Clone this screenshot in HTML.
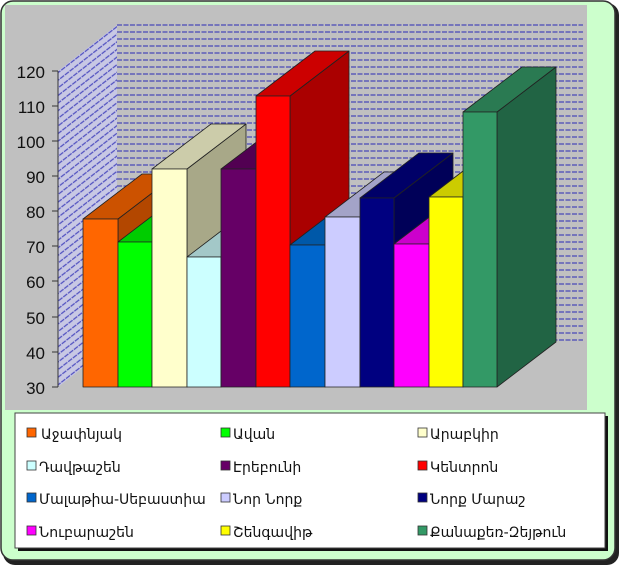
<!DOCTYPE html>
<html><head><meta charset="utf-8"><style>
body{margin:0;width:620px;height:566px;background:#fff;overflow:hidden}
svg{display:block}
text{font-family:"DejaVu Sans","Liberation Sans",sans-serif}
.ax{font-family:"Liberation Sans",sans-serif}
</style></head><body>
<svg width="620" height="566" xmlns="http://www.w3.org/2000/svg">
<defs>
<pattern id="hatch" width="6" height="6" patternUnits="userSpaceOnUse" patternTransform="rotate(-38)">
<rect width="6" height="6" fill="#c8c8e4"/><line x1="0" y1="3" x2="6" y2="3" stroke="#5050c0" stroke-width="1.2" stroke-dasharray="4 1"/>
</pattern>
</defs>
<rect x="3" y="3" width="616" height="562" rx="12" fill="#222"/>
<rect x="1" y="1" width="614" height="559" rx="12" fill="#ccffcc" stroke="#333" stroke-width="1.5"/>
<rect x="5" y="5" width="582" height="405" fill="#c0c0c0"/>
<g stroke="#4848b8" stroke-width="1.3" stroke-dasharray="5 1.5">
<line x1="117" y1="25" x2="583" y2="25"/><line x1="117" y1="32" x2="583" y2="32"/><line x1="117" y1="39" x2="583" y2="39"/><line x1="117" y1="46" x2="583" y2="46"/><line x1="117" y1="53" x2="583" y2="53"/><line x1="117" y1="60" x2="583" y2="60"/><line x1="117" y1="67" x2="583" y2="67"/><line x1="117" y1="74" x2="583" y2="74"/><line x1="117" y1="81" x2="583" y2="81"/><line x1="117" y1="88" x2="583" y2="88"/><line x1="117" y1="95" x2="583" y2="95"/><line x1="117" y1="102" x2="583" y2="102"/><line x1="117" y1="109" x2="583" y2="109"/><line x1="117" y1="116" x2="583" y2="116"/><line x1="117" y1="123" x2="583" y2="123"/><line x1="117" y1="130" x2="583" y2="130"/><line x1="117" y1="137" x2="583" y2="137"/><line x1="117" y1="144" x2="583" y2="144"/><line x1="117" y1="151" x2="583" y2="151"/><line x1="117" y1="158" x2="583" y2="158"/><line x1="117" y1="165" x2="583" y2="165"/><line x1="117" y1="172" x2="583" y2="172"/><line x1="117" y1="179" x2="583" y2="179"/><line x1="117" y1="186" x2="583" y2="186"/><line x1="117" y1="193" x2="583" y2="193"/><line x1="117" y1="200" x2="583" y2="200"/><line x1="117" y1="207" x2="583" y2="207"/><line x1="117" y1="214" x2="583" y2="214"/><line x1="117" y1="221" x2="583" y2="221"/><line x1="117" y1="228" x2="583" y2="228"/><line x1="117" y1="235" x2="583" y2="235"/><line x1="117" y1="242" x2="583" y2="242"/><line x1="117" y1="249" x2="583" y2="249"/><line x1="117" y1="256" x2="583" y2="256"/><line x1="117" y1="263" x2="583" y2="263"/><line x1="117" y1="270" x2="583" y2="270"/><line x1="117" y1="277" x2="583" y2="277"/><line x1="117" y1="284" x2="583" y2="284"/><line x1="117" y1="291" x2="583" y2="291"/><line x1="117" y1="298" x2="583" y2="298"/><line x1="117" y1="305" x2="583" y2="305"/><line x1="117" y1="312" x2="583" y2="312"/><line x1="117" y1="319" x2="583" y2="319"/><line x1="117" y1="326" x2="583" y2="326"/><line x1="117" y1="333" x2="583" y2="333"/><line x1="117" y1="340" x2="583" y2="340"/>
</g>
<polygon points="58,387 58,71 117,25 117,341" fill="url(#hatch)"/>
<line x1="58" y1="71" x2="58" y2="387" stroke="#333" stroke-width="1"/>
<g stroke="#333" stroke-width="1">
<line x1="52" y1="71" x2="58" y2="71"/><line x1="52" y1="106" x2="58" y2="106"/><line x1="52" y1="141" x2="58" y2="141"/><line x1="52" y1="176" x2="58" y2="176"/><line x1="52" y1="211" x2="58" y2="211"/><line x1="52" y1="246" x2="58" y2="246"/><line x1="52" y1="281" x2="58" y2="281"/><line x1="52" y1="317" x2="58" y2="317"/><line x1="52" y1="352" x2="58" y2="352"/><line x1="52" y1="387" x2="58" y2="387"/>
</g>
<g class="ax" font-size="17" fill="#111" text-anchor="end">
<text class="ax" x="45" y="78">120</text><text class="ax" x="45" y="113">110</text><text class="ax" x="45" y="148">100</text><text class="ax" x="45" y="183">90</text><text class="ax" x="45" y="218">80</text><text class="ax" x="45" y="253">70</text><text class="ax" x="45" y="288">60</text><text class="ax" x="45" y="324">50</text><text class="ax" x="45" y="359">40</text><text class="ax" x="45" y="394">30</text>
</g>
<g stroke="#222" stroke-width="0.8" stroke-linejoin="round">
<polygon points="118,387 118,219 177,174 177,342" fill="#b34700"/><polygon points="83,219 118,219 177,174 142,174" fill="#cc5200"/><rect x="83" y="219" width="35" height="168" fill="#ff6600"/>
<polygon points="152,387 152,242 211,197 211,342" fill="#00b300"/><polygon points="118,242 152,242 211,197 177,197" fill="#00cc00"/><rect x="118" y="242" width="34" height="145" fill="#00ff00"/>
<polygon points="187,387 187,169 246,124 246,342" fill="#a8a888"/><polygon points="152,169 187,169 246,124 211,124" fill="#ccccaa"/><rect x="152" y="169" width="35" height="218" fill="#ffffcc"/>
<polygon points="221,387 221,257 280,212 280,342" fill="#8fb3b3"/><polygon points="187,257 221,257 280,212 246,212" fill="#a3c8c8"/><rect x="187" y="257" width="34" height="130" fill="#ccffff"/>
<polygon points="256,387 256,169 315,124 315,342" fill="#470047"/><polygon points="221,169 256,169 315,124 280,124" fill="#520052"/><rect x="221" y="169" width="35" height="218" fill="#660066"/>
<polygon points="290,387 290,96 349,51 349,342" fill="#aa0000"/><polygon points="256,96 290,96 349,51 315,51" fill="#cc0000"/><rect x="256" y="96" width="34" height="291" fill="#ff0000"/>
<polygon points="325,387 325,245 384,200 384,342" fill="#00478f"/><polygon points="290,245 325,245 384,200 349,200" fill="#0058a8"/><rect x="290" y="245" width="35" height="142" fill="#0066cc"/>
<polygon points="360,387 360,217 419,172 419,342" fill="#8f8fb3"/><polygon points="325,217 360,217 419,172 384,172" fill="#a3a3c8"/><rect x="325" y="217" width="35" height="170" fill="#ccccff"/>
<polygon points="394,387 394,198 453,153 453,342" fill="#000058"/><polygon points="360,198 394,198 453,153 419,153" fill="#000068"/><rect x="360" y="198" width="34" height="189" fill="#000080"/>
<polygon points="429,387 429,244 488,199 488,342" fill="#b300b3"/><polygon points="394,244 429,244 488,199 453,199" fill="#cc00cc"/><rect x="394" y="244" width="35" height="143" fill="#ff00ff"/>
<polygon points="463,387 463,197 522,152 522,342" fill="#b3b300"/><polygon points="429,197 463,197 522,152 488,152" fill="#cccc00"/><rect x="429" y="197" width="34" height="190" fill="#ffff00"/>
<polygon points="497,387 497,112 556,67 556,342" fill="#216444"/><polygon points="463,112 497,112 556,67 522,67" fill="#2a7a52"/><rect x="463" y="112" width="34" height="275" fill="#339966"/>
</g>
<rect x="18" y="416" width="590" height="135" fill="#111"/>
<rect x="15" y="413" width="590" height="135" fill="#fff" stroke="#444" stroke-width="1"/>
<g stroke="#333" stroke-width="0.8">
<rect x="27" y="428" width="9" height="9" fill="#ff6600"/><rect x="221" y="428" width="9" height="9" fill="#00ff00"/><rect x="418" y="428" width="9" height="9" fill="#ffffcc"/>
<rect x="27" y="461" width="9" height="9" fill="#ccffff"/><rect x="221" y="461" width="9" height="9" fill="#660066"/><rect x="418" y="461" width="9" height="9" fill="#ff0000"/>
<rect x="27" y="493" width="9" height="9" fill="#0066cc"/><rect x="221" y="493" width="9" height="9" fill="#ccccff"/><rect x="418" y="493" width="9" height="9" fill="#000080"/>
<rect x="27" y="526" width="9" height="9" fill="#ff00ff"/><rect x="221" y="526" width="9" height="9" fill="#ffff00"/><rect x="418" y="526" width="9" height="9" fill="#339966"/>
</g>
<g font-size="14" fill="#111">
<text x="41" y="439">Աջափնյակ</text><text x="233" y="439">Ավան</text><text x="430" y="439">Արաբկիր</text>
<text x="39" y="472">Դավթաշեն</text><text x="233" y="472">Էրեբունի</text><text x="430" y="472">Կենտրոն</text>
<text x="39" y="504">Մալաթիա-Սեբաստիա</text><text x="233" y="504">Նոր Նորք</text><text x="430" y="504">Նորք Մարաշ</text>
<text x="39" y="537">Նուբարաշեն</text><text x="233" y="537">Շենգավիթ</text><text x="430" y="537">Քանաքեռ-Զեյթուն</text>
</g>
</svg>
</body></html>
